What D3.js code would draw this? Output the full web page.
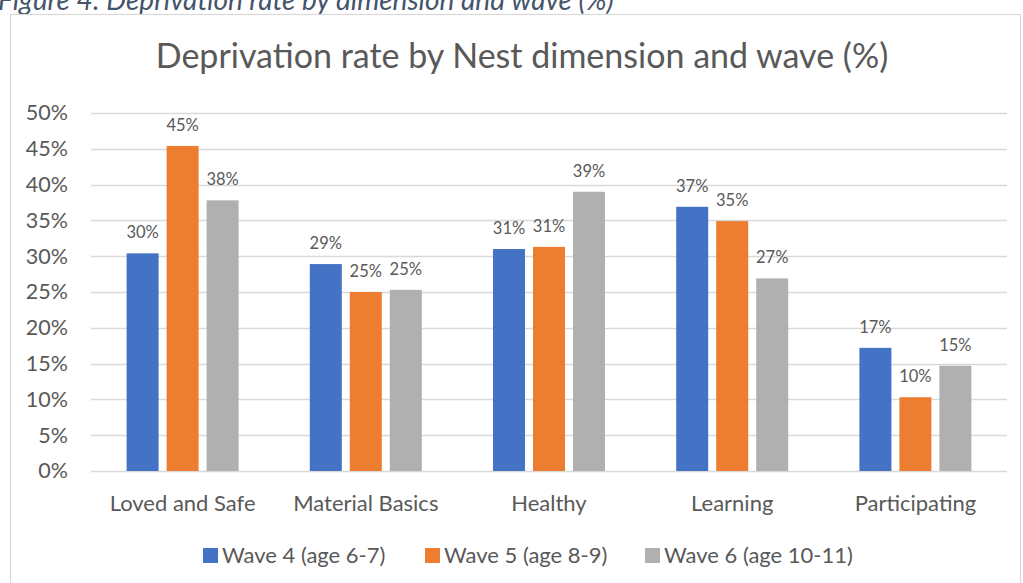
<!DOCTYPE html>
<html><head><meta charset="utf-8">
<script src="https://cdn.jsdelivr.net/npm/d3@7"></script>
<style>html,body{margin:0;padding:0;background:#fff;overflow:hidden}</style>
</head><body>
<svg id="chart" width="1023" height="583"></svg>
<script>
const categories = ["Loved and Safe", "Material Basics", "Healthy", "Learning", "Participating"];
const seriesNames = ["Wave 4 (age 6-7)", "Wave 5 (age 8-9)", "Wave 6 (age 10-11)"];
const wave4 = [30.4, 28.9, 31.0, 36.9, 17.2];
const wave5 = [45.4, 25.0, 31.3, 34.9, 10.3];
const wave6 = [37.8, 25.3, 39.0, 26.9, 14.7];
const colors = ["#4472C4", "#ED7D31", "#B0B0B0"];
const yTicks = [0, 5, 10, 15, 20, 25, 30, 35, 40, 45, 50];

const series = [wave4, wave5, wave6];
const font = "Lato, 'Open Sans', sans-serif";
const svg = d3.select("#chart");

// caption (cut at top, as in the reference)
svg.append("text").attr("x", -2).attr("y", 10)
  .attr("font-family", font).attr("font-style", "italic").attr("font-size", 28)
  .attr("fill", "#44546A").text("Figure 4: Deprivation rate by dimension and wave (%)");

// chart border
svg.append("rect").attr("x", 10.5).attr("y", 14.5).attr("width", 1010).attr("height", 600)
  .attr("fill", "#fff").attr("stroke", "#D9D9D9").attr("stroke-width", 1.2);

const m = {left: 91, right: 1007, top: 113, bottom: 471};
const x = d3.scaleBand().domain(categories).range([m.left, m.right]);
const inner = d3.scaleBand().domain(d3.range(3)).range([0, x.bandwidth()]).paddingInner(0.2).paddingOuter(0.89);
const y = d3.scaleLinear().domain([0, 50]).range([m.bottom, m.top]);

// title
svg.append("text").attr("x", 522).attr("y", 68).attr("text-anchor", "middle")
  .attr("font-family", font).attr("font-size", 34).attr("fill", "#595959")
  .text("Deprivation rate by Nest dimension and wave (%)");

// gridlines
svg.append("g").selectAll("line").data(yTicks).join("line")
  .attr("x1", m.left).attr("x2", m.right)
  .attr("y1", d => Math.round(y(d)) + 0.5).attr("y2", d => Math.round(y(d)) + 0.5)
  .attr("stroke", "#D9D9D9").attr("stroke-width", 1.5);

// y axis
const yAxis = d3.axisLeft(y).tickValues(yTicks).tickFormat(d => d + "%").tickSize(0).tickPadding(23);
const ga = svg.append("g").attr("transform", `translate(${m.left},0)`).call(yAxis);
ga.select(".domain").remove();
ga.selectAll("text").attr("font-family", font).attr("font-size", 21.5).attr("fill", "#595959");

// x axis
const xAxis = d3.axisBottom(x).tickSize(0).tickPadding(24);
const gx = svg.append("g").attr("transform", `translate(0,${m.bottom})`).call(xAxis);
gx.select(".domain").remove();
gx.selectAll("text").attr("font-family", font).attr("font-size", 22).attr("fill", "#595959");

// bars
series.forEach((vals, si) => {
  const g = svg.append("g");
  g.selectAll("rect").data(vals).join("rect")
    .attr("x", (d, i) => x(categories[i]) + inner(si))
    .attr("width", inner.bandwidth())
    .attr("y", d => y(d)).attr("height", d => y(0) - y(d))
    .attr("fill", colors[si]);
  g.selectAll("text").data(vals).join("text")
    .attr("x", (d, i) => x(categories[i]) + inner(si) + inner.bandwidth() / 2)
    .attr("y", d => y(d) - 15).attr("text-anchor", "middle")
    .attr("font-family", font).attr("font-size", 16.5).attr("fill", "#595959")
    .text(d => Math.round(d) + "%");
});

// legend
const legX = [203, 425, 645];
const lg = svg.append("g");
seriesNames.forEach((n, i) => {
  lg.append("rect").attr("x", legX[i]).attr("y", 548).attr("width", 15).attr("height", 15).attr("fill", colors[i]);
  lg.append("text").attr("x", legX[i] + 19).attr("y", 563)
    .attr("font-family", font).attr("font-size", 22).attr("fill", "#595959").text(n);
});
</script>
</body></html>
